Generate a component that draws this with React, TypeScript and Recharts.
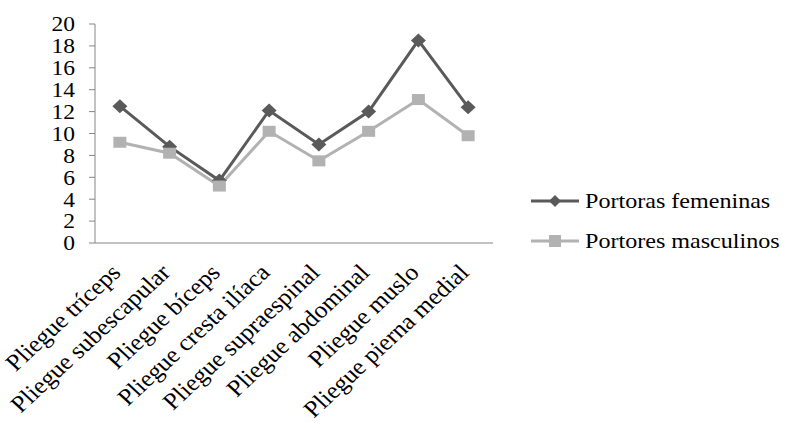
import { Legend, Line, LineChart, XAxis, YAxis } from "recharts"

const categorias = [
  "Pliegue tríceps",
  "Pliegue subescapular",
  "Pliegue bíceps",
  "Pliegue cresta ilíaca",
  "Pliegue supraespinal",
  "Pliegue abdominal",
  "Pliegue muslo",
  "Pliegue pierna medial",
]
const femeninas = [12.5, 8.8, 5.7, 12.1, 9.0, 12.0, 18.5, 12.4]
const masculinos = [9.2, 8.2, 5.2, 10.2, 7.5, 10.2, 13.1, 9.8]
const yTicks = [0, 2, 4, 6, 8, 10, 12, 14, 16, 18, 20]
const bordes = [0, 1, 2, 3, 4, 5, 6, 7, 8]

const data = categorias.map((name, i) => ({
  name,
  fem: femeninas[i],
  masc: masculinos[i],
}))

const FONT = "'Liberation Serif', 'Times New Roman', serif"
const DARK = "#5a5a5a"
const LIGHT = "#b2b2b2"
const AXIS = "#868686"
// the original picture is a bit wider than tall, so text gets stretched
const SX = 1.12

function Diamond(props: any) {
  const { cx, cy } = props
  if (cx == null || cy == null) return null
  return <path d={`M${cx},${cy - 7}L${cx + 7.5},${cy}L${cx},${cy + 7}L${cx - 7.5},${cy}Z`} fill={DARK} />
}

function Square(props: any) {
  const { cx, cy } = props
  if (cx == null || cy == null) return null
  return <rect x={cx - 6.5} y={cy - 5.5} width={13} height={11} fill={LIGHT} />
}

function YTick(props: any) {
  const { x, y, payload } = props
  return (
    <g transform={`translate(${x},${y}) scale(${SX},1)`}>
      <text textAnchor="end" dy="0.35em" fontFamily={FONT} fontSize={21} fill="#000">
        {payload.value}
      </text>
    </g>
  )
}

function RotatedTick(props: any) {
  const { x, y, payload } = props
  return (
    <g transform={`translate(${x + 2},${y + 23}) scale(1.08,1) rotate(-45)`}>
      <text textAnchor="end" fontFamily={FONT} fontSize={23.5} fill="#000">
        {payload.value}
      </text>
    </g>
  )
}

function Leyenda() {
  const items = [
    { label: "Portoras femeninas", color: DARK, marker: "diamond" },
    { label: "Portores masculinos", color: LIGHT, marker: "square" },
  ]
  return (
    <div style={{ fontFamily: FONT, fontSize: 21.5, color: "#000" }}>
      {items.map((it) => (
        <div key={it.label} style={{ display: "flex", alignItems: "center", height: 40 }}>
          <svg width={48} height={16} style={{ marginRight: 6, flex: "none" }}>
            <line x1={0} y1={8} x2={48} y2={8} stroke={it.color} strokeWidth={3} />
            {it.marker === "diamond" ? (
              <path d="M24,2L30,8L24,14L18,8Z" fill={it.color} />
            ) : (
              <rect x={18} y={2} width={12} height={12} fill={it.color} />
            )}
          </svg>
          <span style={{ display: "inline-block", transform: `scaleX(${SX})`, transformOrigin: "left center", whiteSpace: "nowrap" }}>
            {it.label}
          </span>
        </div>
      ))}
    </div>
  )
}

export default function App() {
  return (
    <div style={{ position: "absolute", left: 0, top: 0, background: "#fff" }}>
      <LineChart width={786} height={428} data={data} margin={{ top: 24, right: 293, bottom: 5, left: 0 }}>
        <XAxis
          xAxisId="bordes"
          type="number"
          domain={[0, 8]}
          ticks={bordes}
          tick={false}
          axisLine={false}
          tickSize={6}
          tickLine={{ stroke: AXIS }}
          height={0}
        />
        <XAxis
          dataKey="name"
          interval={0}
          tickLine={false}
          axisLine={{ stroke: AXIS }}
          padding={{ left: 24.875, right: 24.875 }}
          tick={<RotatedTick />}
          height={180}
        />
        <YAxis
          domain={[0, 20]}
          ticks={yTicks}
          interval={0}
          width={95}
          tickSize={6}
          tickMargin={14}
          axisLine={{ stroke: AXIS }}
          tickLine={{ stroke: AXIS }}
          tick={<YTick />}
        />
        <Legend
          layout="vertical"
          align="center"
          verticalAlign="middle"
          content={<Leyenda />}
          wrapperStyle={{ position: "absolute", left: 531, top: 181, width: 255 }}
        />
        <Line
          dataKey="fem"
          stroke={DARK}
          strokeWidth={3}
          dot={<Diamond />}
          activeDot={false}
          isAnimationActive={false}
        />
        <Line
          dataKey="masc"
          stroke={LIGHT}
          strokeWidth={3}
          dot={<Square />}
          activeDot={false}
          isAnimationActive={false}
        />
      </LineChart>
    </div>
  )
}
